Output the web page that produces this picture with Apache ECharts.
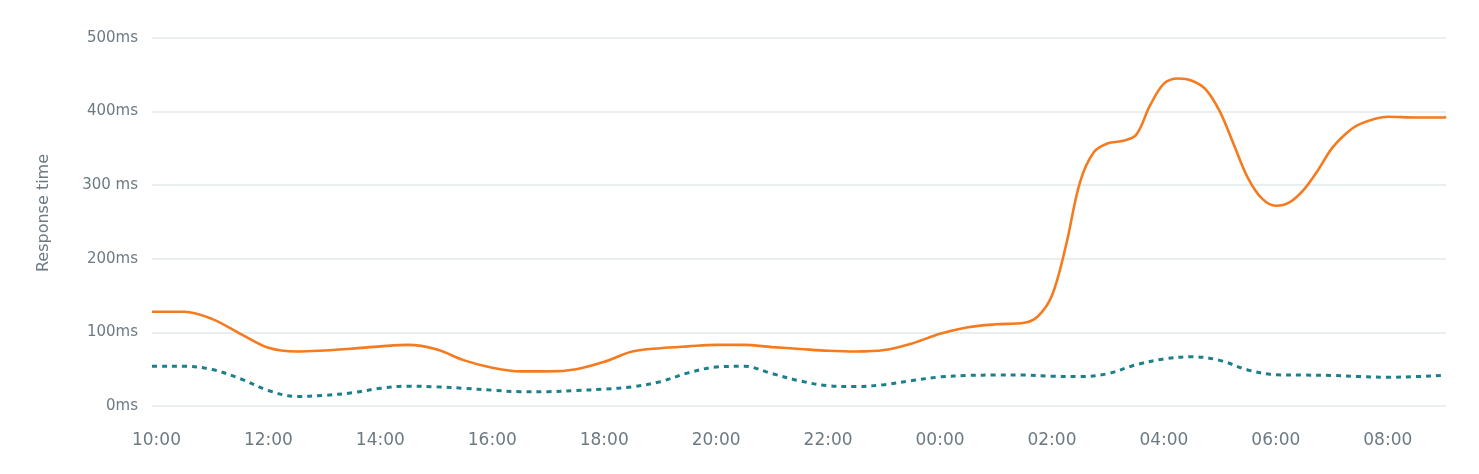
<!DOCTYPE html>
<html>
<head>
<meta charset="utf-8">
<script src="https://cdn.jsdelivr.net/npm/echarts@6/dist/echarts.min.js"></script>
<style>
html,body{margin:0;padding:0;background:#fff;}
#chart{width:1479px;height:474px;}
</style>
</head>
<body>
<div id="chart"></div>
<script>
// x values are hours since midnight of day 1 (24+ = next day)
const xMin = 9.92;
const xMax = 33.04;
const tickHours = [10, 12, 14, 16, 18, 20, 22, 24, 26, 28, 30, 32];
const yTickLabels = ['0ms', '100ms', '200ms', '300 ms', '400ms', '500ms'];

const primaryTimes = [9.92, 10, 10.5, 11, 11.5, 12, 12.5, 13, 13.5, 14, 14.5, 15, 15.5, 16, 16.5, 17, 17.5, 18, 18.5, 19, 19.5, 20, 20.5, 21, 21.5, 22, 22.5, 23, 23.5, 24, 24.5, 25, 25.5, 25.75, 26, 26.25, 26.5, 26.75, 27, 27.25, 27.5, 27.75, 28, 28.25, 28.5, 28.75, 29, 29.25, 29.5, 29.75, 30, 30.25, 30.5, 30.75, 31, 31.25, 31.5, 32, 32.5, 33, 33.04];
const primaryValues = [128, 128, 128, 118, 98, 79, 74, 75.5, 78, 81, 83, 77, 62, 52, 47, 47, 50, 60, 74, 78.5, 81, 83, 83, 80, 77.5, 75, 74, 76, 85, 98, 107, 111, 113, 122, 150, 218, 304, 345, 357, 360, 368, 408, 438, 445, 442, 430, 400, 355, 310, 282, 272, 277, 294, 320, 350, 370, 383, 393, 392, 392, 393];

const secondaryTimes = [9.92, 10, 10.5, 11, 11.5, 12, 12.5, 13, 13.5, 14, 14.5, 15, 15.5, 16, 16.5, 17, 17.5, 18, 18.5, 19, 19.5, 20, 20.5, 21, 21.5, 22, 22.5, 23, 23.5, 24, 24.5, 25, 25.5, 26, 26.5, 27, 27.5, 28, 28.5, 29, 29.5, 30, 30.5, 31, 31.5, 32, 32.5, 33, 33.04];
const secondaryValues = [54, 54, 54, 49.5, 37, 21, 13, 14.5, 18, 24, 27, 26, 24, 21.5, 19.5, 19.5, 21, 23, 26, 33, 45, 53, 54, 44, 34, 27.5, 26.5, 29, 34.5, 39.5, 41.5, 42, 42, 40.5, 40, 44, 56, 64, 67, 62, 49, 42.5, 42, 41.5, 40, 39, 40, 41.5, 42];

const primaryData = primaryTimes.map((t, i) => [t, primaryValues[i]]);
const secondaryData = secondaryTimes.map((t, i) => [t, secondaryValues[i]]);

const textColor = '#6d7a82';
const fontFamily = 'DejaVu Sans';

const chart = echarts.init(document.getElementById('chart'), null, {renderer: 'canvas'});
chart.setOption({
  animation: false,
  grid: {left: 152, right: 33, top: 38, bottom: 68},
  xAxis: {
    type: 'value',
    min: xMin,
    max: xMax,
    splitLine: {show: false},
    axisLine: {show: false},
    axisTick: {show: false},
    axisLabel: {
      customValues: tickHours,
      color: textColor,
      fontFamily: fontFamily,
      fontSize: 17,
      margin: 26,
      formatter: function (v) {
        const h = Math.round(v) % 24;
        return (h < 10 ? '0' : '') + h + ':00';
      }
    }
  },
  yAxis: {
    type: 'value',
    min: 0,
    max: 500,
    interval: 100,
    name: 'Response time',
    nameLocation: 'middle',
    nameGap: 100,
    nameTextStyle: {color: textColor, fontFamily: fontFamily, fontSize: 16, padding: [0, 0, 0, 18]},
    axisLine: {show: false},
    axisTick: {show: false},
    splitLine: {lineStyle: {color: '#e4e8ea', width: 1.5}},
    axisLabel: {
      color: textColor,
      fontFamily: fontFamily,
      fontSize: 15,
      margin: 14,
      formatter: function (v) { return yTickLabels[Math.round(v / 100)]; }
    }
  },
  series: [
    {
      name: 'Response time',
      type: 'line',
      data: primaryData,
      smooth: 0.35,
      showSymbol: false,
      lineStyle: {color: '#f47b1f', width: 2.6},
      itemStyle: {color: '#f47b1f'},
      z: 3
    },
    {
      name: 'Baseline',
      type: 'line',
      data: secondaryData,
      smooth: 0.35,
      showSymbol: false,
      lineStyle: {color: '#1b7f8c', width: 3, type: [5, 5], cap: 'butt'},
      itemStyle: {color: '#1b7f8c'},
      z: 2
    }
  ]
});
</script>
</body>
</html>
